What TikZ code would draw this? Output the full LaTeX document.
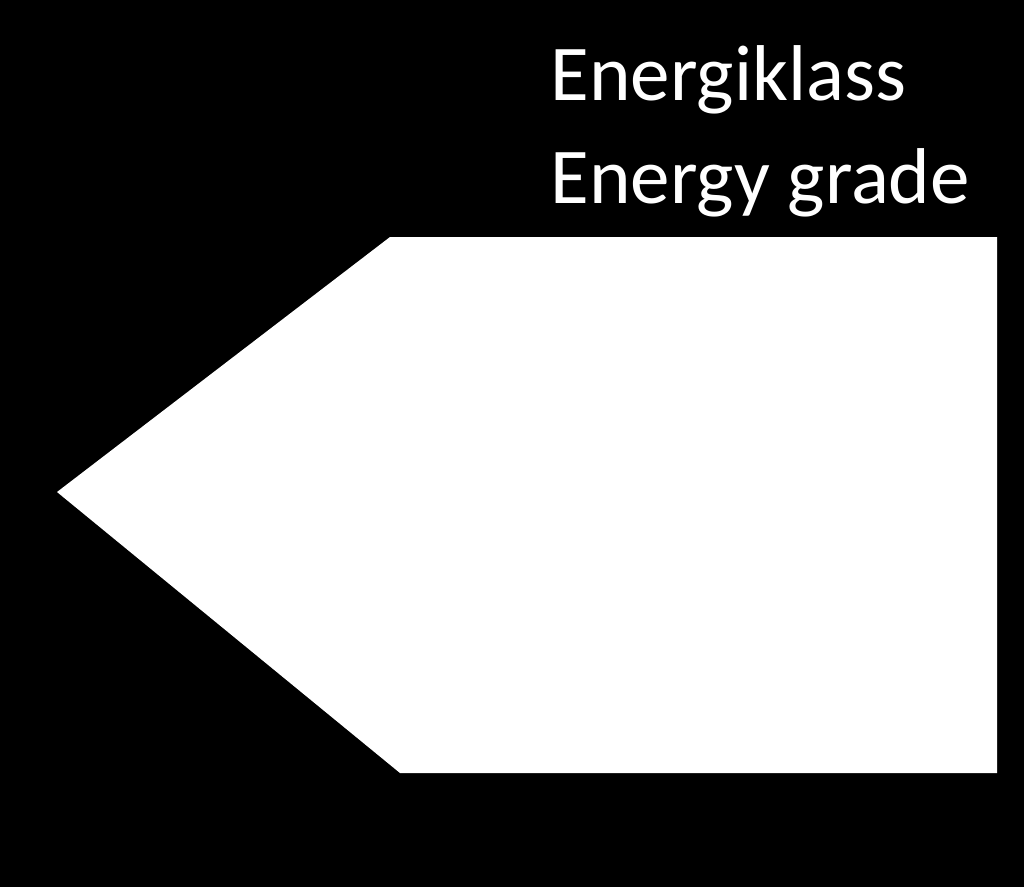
\documentclass[tikz,border=0pt]{standalone}
\usepackage{fontspec}
\setmainfont{Carlito}
\begin{document}
\begin{tikzpicture}[x=0.01cm,y=-0.01cm,lbl/.style={text=white,inner sep=0,anchor=base west,font=\fontsize{22.5pt}{27pt}\selectfont}]
\fill[black] (0,0) rectangle (1024,887);
\fill[white] (390,237) -- (997,237) -- (997,773) -- (400,773) -- (57,492) -- cycle;
\node[lbl] (t1) at (550,100) {Energiklass};
\node[lbl] (t2) at (550,203) {Energy grade};
\end{tikzpicture}
\end{document}
